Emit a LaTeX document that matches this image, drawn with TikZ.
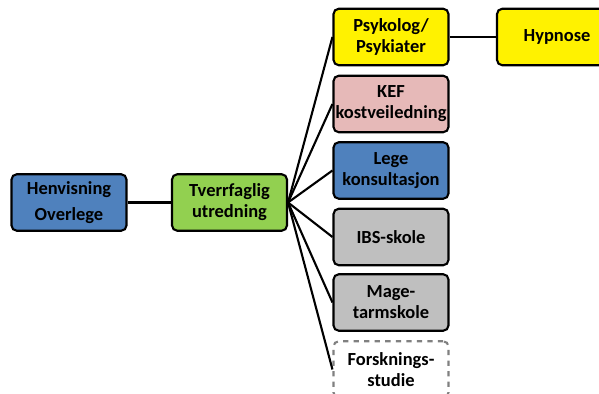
\documentclass[tikz,border=0pt]{standalone}
\usepackage{fontspec}
\setmainfont{Carlito}
\usepackage{tikz}

\definecolor{boxblue}{HTML}{4F81BD}
\definecolor{boxgreen}{HTML}{92D050}
\definecolor{boxpink}{HTML}{E6B9B8}
\definecolor{boxgray}{HTML}{BFBFBF}

\tikzset{
  card/.style={draw=black, line width=1.2pt, rounded corners=3pt,
    minimum width=2.3cm, minimum height=1.13cm, align=center,
    font=\fontsize{10.5}{12}\selectfont\bfseries, inner sep=1pt},
  link/.style={line width=1.2pt}
}

\begin{document}
\begin{tikzpicture}[x=0.02cm, y=-0.02cm]
  \useasboundingbox (0,0) rectangle (599,394);
  \clip (0,0) rectangle (599,394);
  % left part
  \node[card, fill=boxblue] (henv) at (69,202.5) {Henvisning\\[3pt]Overlege};
  \node[card, fill=boxgreen] (tverr) at (229.5,202.5) {Tverrfaglig\\utredning};
  % column of offers
  \node[card, fill=yellow] (psyk) at (391,37) {Psykolog/\\Psykiater};
  \node[card, fill=boxpink] (kef) at (391,104) {KEF\\kostveiledning};
  \node[card, fill=boxblue] (lege) at (391,170.5) {Lege\\konsultasjon};
  \node[card, fill=boxgray] (ibs) at (391,237) {IBS-skole};
  \node[card, fill=boxgray] (mage) at (391,302.5) {Mage-\\tarmskole};
  \node[card, draw=gray, dashed, fill=white] (forsk) at (391,369.5) {Forsknings-\\studie};
  \node[card, fill=yellow, minimum width=2.4cm] (hyp) at (557,37) {Hypnose};
  % connectors
  \draw[link] (henv) -- (tverr);
  \foreach \t in {psyk,kef,lege,ibs,mage,forsk}
    \draw[link] (tverr.east) -- (\t.west);
  \draw[link] (psyk) -- (hyp);
\end{tikzpicture}
\end{document}
